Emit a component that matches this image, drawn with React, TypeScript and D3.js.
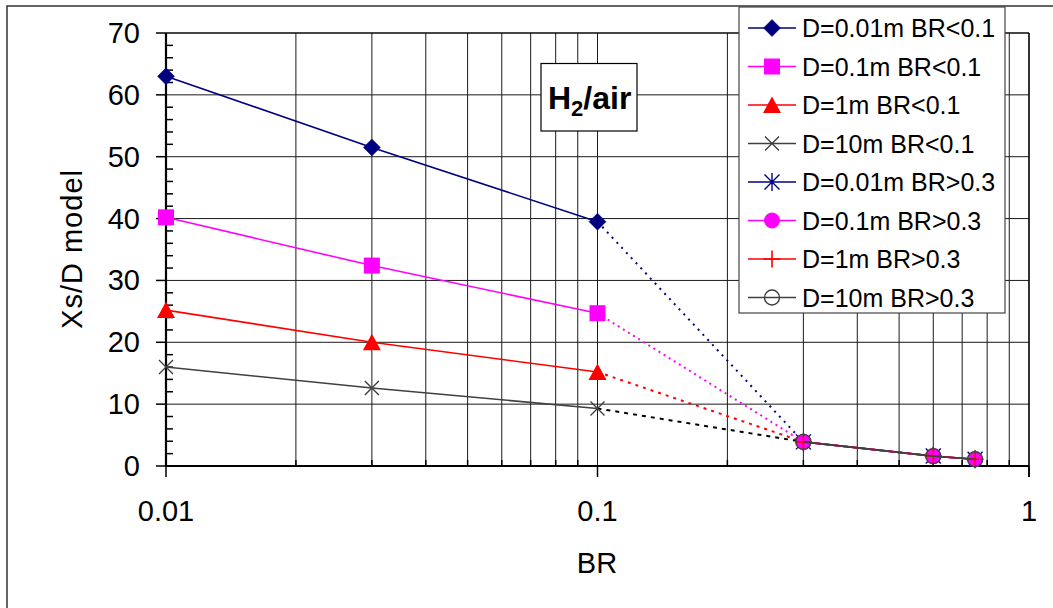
import React from "react";
import * as d3 from "d3";

// ---- data ----
const brLow = [0.01, 0.03, 0.1];
const brHigh = [0.3, 0.6, 0.75];
const d001Low = [63.0, 51.5, 39.5];
const d01Low = [40.2, 32.4, 24.7];
const d1Low = [25.2, 20.0, 15.2];
const d10Low = [16.0, 12.6, 9.3];
const d001High = [3.9, 1.6, 1.1];
const d01High = [3.9, 1.6, 1.1];
const d1High = [3.9, 1.6, 1.1];
const d10High = [3.9, 1.6, 1.1];
const yTicks = [0, 10, 20, 30, 40, 50, 60, 70];
const xTicks = [0.01, 0.1, 1];
const xTickLabels = ["0.01", "0.1", "1"];
const legendLabels = [
  "D=0.01m BR<0.1",
  "D=0.1m BR<0.1",
  "D=1m BR<0.1",
  "D=10m BR<0.1",
  "D=0.01m BR>0.3",
  "D=0.1m BR>0.3",
  "D=1m BR>0.3",
  "D=10m BR>0.3",
];

type MarkerType = "diamond" | "square" | "triangle" | "x" | "asterisk" | "circle" | "plus" | "ocircle";

interface Series {
  label: string;
  xs: number[];
  ys: number[];
  color: string;
  marker: MarkerType;
}

const NAVY = "#000080";
const MAG = "#FF00FF";
const RED = "#FF0000";
const GRAY = "#404040";

const lowSeries: Series[] = [
  { label: legendLabels[0], xs: brLow, ys: d001Low, color: NAVY, marker: "diamond" },
  { label: legendLabels[1], xs: brLow, ys: d01Low, color: MAG, marker: "square" },
  { label: legendLabels[2], xs: brLow, ys: d1Low, color: RED, marker: "triangle" },
  { label: legendLabels[3], xs: brLow, ys: d10Low, color: GRAY, marker: "x" },
];
const highSeries: Series[] = [
  { label: legendLabels[4], xs: brHigh, ys: d001High, color: NAVY, marker: "asterisk" },
  { label: legendLabels[5], xs: brHigh, ys: d01High, color: MAG, marker: "circle" },
  { label: legendLabels[6], xs: brHigh, ys: d1High, color: RED, marker: "plus" },
  { label: legendLabels[7], xs: brHigh, ys: d10High, color: GRAY, marker: "ocircle" },
];
const connectorColors = [NAVY, MAG, RED, "#000000"];
const connectorDash = ["2,5", "2,4", "3,5", "4,5"];

const FONT = "'Liberation Sans', Arial, Helvetica, sans-serif";

function Marker({ type, x, y, color }: { type: MarkerType; x: number; y: number; color: string }) {
  const t = `translate(${x},${y})`;
  switch (type) {
    case "diamond":
      return <path transform={t} d="M0,-8.5L8.5,0L0,8.5L-8.5,0Z" fill={color} stroke={color} strokeWidth={0.5} />;
    case "square":
      return <rect transform={t} x={-8} y={-8} width={16} height={16} fill={color} />;
    case "triangle":
      return <path transform={t} d="M0,-8.5L9,8L-9,8Z" fill={color} />;
    case "x":
      return (
        <path transform={t} d="M-7,-7L7,7M-7,7L7,-7" stroke={color} strokeWidth={1.4} fill="none" />
      );
    case "asterisk":
      return (
        <path transform={t} d="M-7.5,-7.5L7.5,7.5M-7.5,7.5L7.5,-7.5M0,-9L0,9" stroke={color} strokeWidth={1.4} fill="none" />
      );
    case "circle":
      return <circle transform={t} r={7.5} fill={color} stroke={color} strokeWidth={1} />;
    case "plus":
      return <path transform={t} d="M-8.5,0L8.5,0M0,-8.5L0,8.5" stroke={color} strokeWidth={1.6} fill="none" />;
    case "ocircle":
      return <circle transform={t} r={7.5} fill="none" stroke={color} strokeWidth={1.4} />;
  }
}

export default function App() {
  const W = 1053;
  const H = 608;
  const left = 166;
  const right = 1029;
  const top = 33;
  const bottom = 466;

  const x = d3.scaleLog().domain([0.01, 1]).range([left, right]);
  const y = d3.scaleLinear().domain([0, 70]).range([bottom, top]);

  // minor x positions
  const minorX: number[] = [];
  for (const dec of [0.01, 0.1]) {
    for (let k = 2; k <= 9; k++) minorX.push(dec * k);
  }
  const minorY: number[] = [];
  for (let v = 0; v < 70; v += 2) if (v % 10 !== 0) minorY.push(v);

  const line = d3
    .line<[number, number]>()
    .x((d) => x(d[0]))
    .y((d) => y(d[1]));

  const legendX = 739;
  const legendY = 7;
  const legendW = 266;
  const legendH = 306;
  const rowY = (i: number) => 28 + i * 38.5;

  const allSeries = [...lowSeries, ...highSeries];

  return (
    <svg
      width={W}
      height={H}
      style={{ position: "absolute", left: 0, top: 0, background: "#fff" }}
      fontFamily={FONT}
    >
      <rect x={0} y={0} width={W} height={H} fill="#fff" />
      {/* outer chart frame */}
      <rect x={7} y={6} width={1100} height={700} fill="none" stroke="#333" strokeWidth={1.5} />

      {/* gridlines */}
      {minorX.map((v, i) => (
        <line key={"gx" + i} x1={x(v)} x2={x(v)} y1={top} y2={bottom} stroke="#1a1a1a" strokeWidth={1} />
      ))}
      {yTicks.map((v, i) => (
        <line key={"gy" + i} x1={left} x2={right} y1={y(v)} y2={y(v)} stroke="#1a1a1a" strokeWidth={1} />
      ))}
      {/* plot border */}
      <line x1={x(0.1)} x2={x(0.1)} y1={top} y2={bottom} stroke="#1a1a1a" strokeWidth={1} />
      <line x1={right} x2={right} y1={top} y2={bottom + 11} stroke="#000" strokeWidth={1.6} />
      <line x1={left} x2={right} y1={top} y2={top} stroke="#000" strokeWidth={1.2} />

      {/* minor ticks */}
      {minorY.map((v, i) => (
        <line key={"my" + i} x1={left} x2={left + 7} y1={y(v)} y2={y(v)} stroke="#000" strokeWidth={1.5} />
      ))}
      {minorX.map((v, i) => (
        <line key={"mx" + i} x1={x(v)} x2={x(v)} y1={bottom} y2={bottom - 6} stroke="#000" strokeWidth={1.5} />
      ))}
      {/* major ticks */}
      {yTicks.map((v, i) => (
        <line key={"My" + i} x1={left - 10} x2={left} y1={y(v)} y2={y(v)} stroke="#000" strokeWidth={1.5} />
      ))}
      {xTicks.map((v, i) => (
        <line key={"Mx" + i} x1={x(v)} x2={x(v)} y1={bottom} y2={bottom + 11} stroke="#000" strokeWidth={1.5} />
      ))}
      {/* axes */}
      <line x1={left} x2={left} y1={top} y2={bottom} stroke="#000" strokeWidth={2.2} />
      <line x1={left} x2={right} y1={bottom} y2={bottom} stroke="#000" strokeWidth={2.2} />

      {/* tick labels */}
      {yTicks.map((v, i) => (
        <text key={"ly" + i} x={140} y={y(v) + 10} textAnchor="end" fontSize={29} fill="#000">
          {v}
        </text>
      ))}
      {xTicks.map((v, i) => (
        <text key={"lx" + i} x={x(v)} y={521} textAnchor="middle" fontSize={29} fill="#000">
          {xTickLabels[i]}
        </text>
      ))}
      {/* axis titles */}
      <text x={597} y={573} textAnchor="middle" fontSize={29} fill="#000">
        BR
      </text>
      <text
        transform={`translate(82,249) rotate(-90)`}
        textAnchor="middle"
        fontSize={29}
        fill="#000"
        letterSpacing={1}
      >
        Xs/D model
      </text>

      {/* dotted connectors */}
      {lowSeries.map((s, i) => {
        const hs = highSeries[i];
        const pts: [number, number][] = [
          [s.xs[s.xs.length - 1], s.ys[s.ys.length - 1]],
          [hs.xs[0], hs.ys[0]],
        ];
        return (
          <path
            key={"c" + i}
            d={line(pts) || ""}
            fill="none"
            stroke={connectorColors[i]}
            strokeWidth={2}
            strokeDasharray={connectorDash[i]}
          />
        );
      })}

      {/* series lines + markers */}
      {allSeries.map((s, i) => {
        const pts: [number, number][] = s.xs.map((v, j) => [v, s.ys[j]]);
        return (
          <g key={"s" + i}>
            <path d={line(pts) || ""} fill="none" stroke={s.color} strokeWidth={1.6} />
            {pts.map((p, j) => (
              <Marker key={j} type={s.marker} x={x(p[0])} y={y(p[1])} color={s.color} />
            ))}
          </g>
        );
      })}

      {/* H2/air box */}
      <rect x={541} y={63.5} width={96} height={67.5} fill="#fff" stroke="#000" strokeWidth={1.2} />
      <text x={548} y={109} fontSize={32} fontWeight="bold" fill="#000">
        H
        <tspan fontSize={22} dy={7}>
          2
        </tspan>
        <tspan dy={-7}>/air</tspan>
      </text>

      {/* legend */}
      <rect x={legendX} y={legendY} width={legendW} height={legendH} fill="#fff" stroke="#444" strokeWidth={1.2} />
      {allSeries.map((s, i) => (
        <g key={"lg" + i}>
          <line x1={748} x2={796} y1={rowY(i)} y2={rowY(i)} stroke={s.color} strokeWidth={1.6} />
          <Marker type={s.marker} x={772} y={rowY(i)} color={s.color} />
          <text x={802} y={rowY(i) + 9} fontSize={25} fill="#000">
            {s.label}
          </text>
        </g>
      ))}
    </svg>
  );
}
